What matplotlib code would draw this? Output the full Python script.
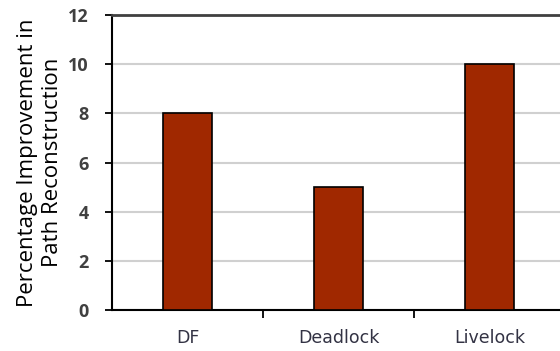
import matplotlib
matplotlib.use("Agg")
import matplotlib.pyplot as plt
from matplotlib.ticker import FixedLocator, NullFormatter

categories = ["DF", "Deadlock", "Livelock"]
improvement = [8, 5, 10]
y_ticks = [0, 2, 4, 6, 8, 10, 12]

fig = plt.figure(figsize=(5.6, 3.51), dpi=100)
# axes runs slightly past the right edge of the figure
ax = fig.add_axes([112 / 560, 1 - 310 / 351, 453 / 560, 295 / 351])

x = list(range(len(categories)))
ax.bar(x, improvement, width=0.33, color="#a02800", edgecolor="black", linewidth=1.2, zorder=3)

ax.set_xlim(-0.5, len(categories) - 0.5)
ax.set_ylim(0, 12)
ax.set_yticks(y_ticks)
ax.set_yticklabels([str(v) for v in y_ticks], fontsize=13, fontweight="bold",
                   color="#404040", family="Open Sans")
ax.yaxis.grid(True, color="#d0d0d0", linewidth=1.5, zorder=0)

ax.set_xticks(x)
ax.set_xticklabels(categories, fontsize=12.5, color="#333344", family="DejaVu Sans")
ax.tick_params(axis="x", which="major", length=0, pad=14)
ax.xaxis.set_minor_locator(FixedLocator([0.5, 1.5]))
ax.xaxis.set_minor_formatter(NullFormatter())
ax.tick_params(axis="x", which="minor", length=6, width=1.3, color="black")
ax.tick_params(axis="y", length=5, width=1.3, color="black", pad=12)

for side in ["left", "bottom"]:
    ax.spines[side].set_linewidth(1.5)
    ax.spines[side].set_color("black")
ax.spines["top"].set_linewidth(2)
ax.spines["top"].set_color("#404040")
ax.spines["right"].set_visible(False)

ax.set_ylabel("Percentage Improvement in\nPath Reconstruction", fontsize=16,
              family="Open Sans", color="black", labelpad=3, linespacing=1.3)

fig.savefig("out.png", dpi=100)
